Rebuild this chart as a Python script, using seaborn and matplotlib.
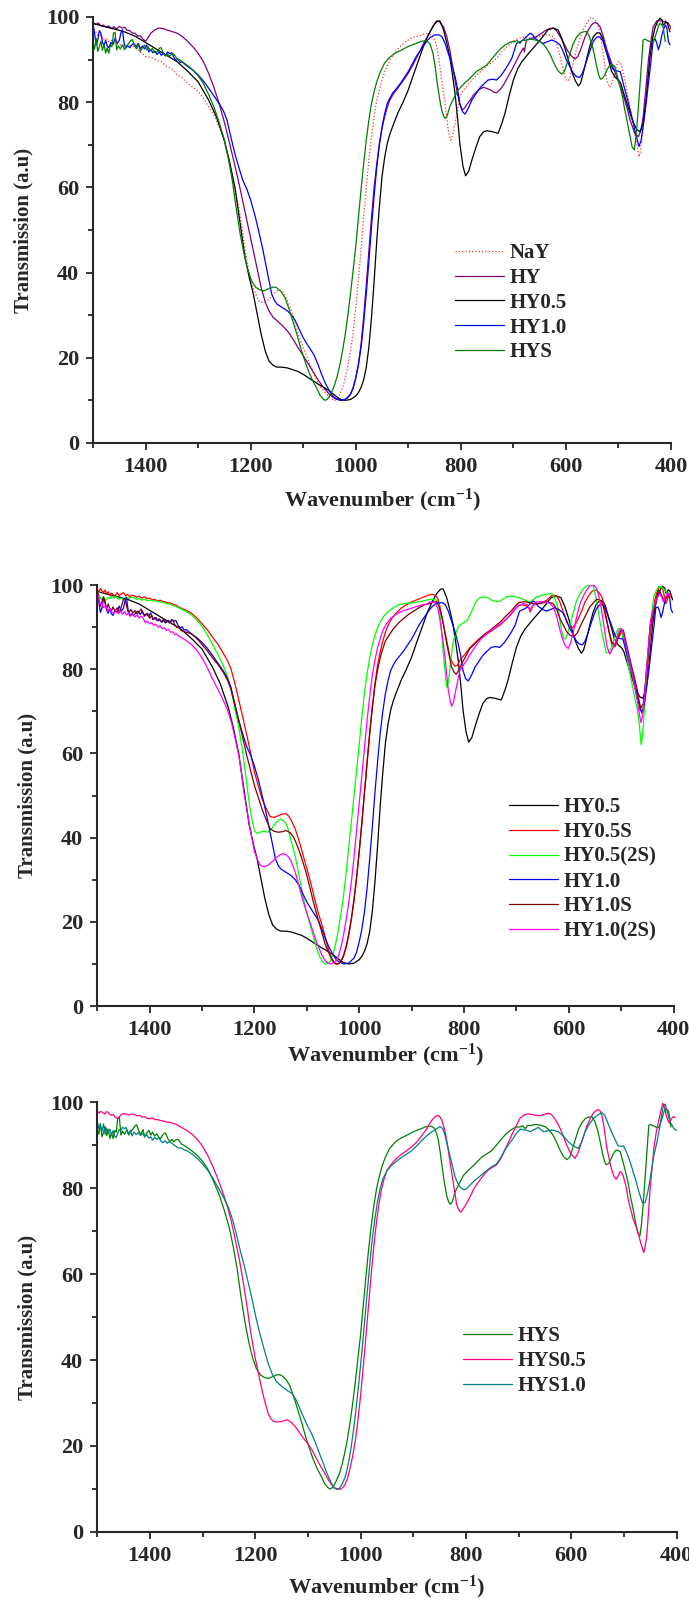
import numpy as np
import matplotlib
matplotlib.use("Agg")
import matplotlib.pyplot as plt
import seaborn as sns
from matplotlib.ticker import MultipleLocator

# ---- spectra (wavenumber cm-1, transmission a.u) ----
hy05_wn = [1500, 1480, 1460, 1440, 1420, 1400, 1380, 1360, 1340, 1320, 1300, 1280, 1265, 1250, 1240, 1230, 1220, 1210, 1202, 1195, 1187, 1180, 1172, 1165, 1157, 1150, 1140, 1130, 1120, 1110, 1100, 1090, 1080, 1070, 1060, 1050, 1040, 1030, 1020, 1010, 1000, 995, 990, 985, 980, 975, 970, 965, 960, 955, 950, 945, 940, 935, 930, 920, 910, 900, 890, 880, 870, 860, 852, 845, 840, 833, 827, 821, 816, 811, 806, 802, 796, 791, 785, 779, 771, 764, 757, 751, 741, 729, 722, 716, 708, 700, 692, 684, 668, 649, 634, 624, 615, 608, 602, 595, 589, 582, 576, 572, 567, 560, 554, 548, 541, 535, 530, 526, 519, 513, 506, 500, 495, 491, 484, 478, 472, 465, 459, 453, 447, 440, 435, 430, 425, 421, 417, 415, 412, 410, 407, 405, 402]
hy05_t = [98.5, 97.8, 97.2, 96.5, 95.5, 94, 92.5, 91, 89.5, 87.3, 84.8, 80.5, 76.5, 71, 66, 60, 51.5, 43, 38.5, 35, 30, 25.5, 21.5, 19.2, 18.2, 17.8, 17.8, 17.6, 17.2, 16.8, 16.1, 15.3, 14.5, 13.7, 13, 12.2, 11.2, 10.3, 10, 10.2, 11, 11.8, 13, 14.8, 17.7, 22.5, 29.5, 38, 47.5, 55.5, 62.5, 67, 70.3, 72.5, 74.2, 77.4, 80, 82.9, 86.5, 90, 93.5, 96.2, 98, 99, 99.1, 97, 94, 90.7, 86.5, 82, 76, 70.4, 65, 62.7, 63.8, 66.4, 69.5, 71.9, 73, 73.3, 73.1, 72.7, 75, 77.4, 81.5, 85.2, 87.8, 89.5, 91.9, 94.6, 97, 97.4, 97, 95, 92.7, 89.8, 87.2, 85, 83.8, 84.5, 86.8, 90.5, 93.4, 95.3, 96.3, 96.2, 95, 93, 90, 87.2, 85.8, 85.2, 84.2, 82.5, 79.8, 77.4, 75.3, 73.5, 73.1, 75, 81, 90.7, 95, 97.7, 99, 99.7, 99.3, 98.1, 98.4, 98.9, 98.5, 97.7, 96.5]

hy_wn = [1500, 1495, 1490, 1485, 1480, 1475, 1470, 1465, 1460, 1455, 1450, 1445, 1440, 1435, 1430, 1425, 1420, 1415, 1410, 1405, 1400, 1395, 1390, 1382, 1375, 1368, 1360, 1350, 1340, 1330, 1320, 1310, 1300, 1290, 1280, 1270, 1260, 1250, 1240, 1225, 1210, 1195, 1180, 1172, 1165, 1158, 1150, 1140, 1130, 1120, 1110, 1100, 1090, 1080, 1070, 1060, 1050, 1042, 1035, 1025, 1015, 1010, 1005, 1000, 995, 990, 985, 980, 975, 970, 965, 960, 955, 950, 945, 940, 935, 928, 920, 910, 900, 890, 880, 870, 860, 852, 846, 840, 833, 827, 821, 815, 808, 802, 797, 793, 789, 782, 776, 766, 757, 750, 744, 738, 732, 725, 719, 711, 703, 695, 687, 683, 681, 679, 677, 675, 665, 656, 646, 637, 630, 624, 618, 611, 603, 596, 589, 583, 577, 570, 564, 557, 551, 545, 540, 535, 529, 522, 514, 507, 499, 491, 484, 478, 472, 469, 462, 457, 453, 448, 443, 438, 434, 427, 418, 410, 405, 400]
hy_t = [98.7, 98.2, 98.6, 97.9, 98.1, 97.6, 97.9, 97.3, 97.7, 97.2, 97.8, 97.4, 97.6, 96.9, 96.8, 96.2, 96.2, 95.5, 95.6, 94.8, 94.3, 95.2, 96.2, 97, 97.4, 97.3, 97, 96.6, 96.2, 95.4, 94.3, 93, 91.5, 89.5, 86.8, 83.5, 79.7, 75.3, 70.3, 62.5, 53.8, 45.2, 36.5, 33, 31, 29.6, 28.7, 27.6, 26.3, 24.5, 22.4, 20.5, 18.5, 16.5, 14.5, 12.8, 11.4, 10.6, 10.2, 10, 10.6, 11.5, 13, 15.2, 18.5, 23, 29.5, 37, 45.2, 53, 60.1, 65.5, 70.3, 73.8, 76.6, 78.8, 80.5, 82, 83.3, 85, 86.8, 89, 91.5, 94, 96.2, 98, 99.1, 98.8, 97.7, 95.5, 92.3, 88, 82.9, 79.5, 78.2, 78.6, 79.4, 80.5, 81.7, 82.9, 83.5, 83.2, 82.9, 82.4, 82.2, 83, 84, 85.8, 87.6, 89.5, 91.5, 92.3, 92.7, 91.8, 93.5, 94.6, 95, 95.4, 96.2, 97, 97.3, 97.4, 96.8, 95.4, 93.6, 91.9, 90.8, 90.1, 90.8, 93, 95.2, 97, 98.2, 98.7, 98.5, 97.7, 95.5, 92.3, 89.5, 87.2, 84.5, 81.7, 78.8, 75.8, 73.7, 72.7, 71.9, 73.5, 76.6, 83, 89.9, 94.5, 97.7, 99.1, 99.1, 98.8, 98.5, 97.5]

hy10_wn = [1500, 1497, 1494, 1491, 1488, 1485, 1482, 1479, 1476, 1473, 1470, 1466, 1462, 1458, 1454, 1450, 1447, 1444, 1441, 1438, 1434, 1430, 1426, 1422, 1418, 1414, 1410, 1406, 1402, 1398, 1394, 1390, 1386, 1382, 1378, 1374, 1370, 1366, 1362, 1358, 1354, 1350, 1346, 1342, 1338, 1334, 1330, 1320, 1310, 1300, 1290, 1280, 1270, 1260, 1252, 1245, 1238, 1230, 1222, 1215, 1207, 1200, 1192, 1185, 1177, 1170, 1165, 1160, 1155, 1150, 1140, 1130, 1122, 1115, 1108, 1100, 1090, 1080, 1072, 1065, 1057, 1050, 1045, 1040, 1030, 1020, 1010, 1005, 1000, 995, 990, 985, 980, 975, 970, 965, 960, 955, 950, 945, 940, 935, 930, 922, 915, 908, 900, 893, 885, 875, 865, 858, 850, 846, 841, 836, 830, 824, 818, 811, 806, 802, 797, 792, 786, 779, 771, 764, 756, 748, 740, 732, 724, 716, 709, 703, 698, 694, 687, 681, 675, 668, 663, 659, 651, 643, 635, 627, 619, 611, 605, 599, 592, 586, 580, 574, 569, 564, 556, 548, 542, 538, 533, 529, 523, 516, 511, 507, 502, 497, 494, 491, 484, 478, 473, 469, 465, 461, 457, 453, 448, 443, 438, 434, 430, 427, 424, 421, 418, 414, 411, 408, 405, 402]
hy10_t = [98.6, 96, 93.5, 94.5, 96.8, 96.2, 94, 93.3, 94.5, 93.2, 92.8, 94, 93.5, 95, 93.8, 94.5, 96.2, 97, 94, 92.7, 93.2, 92.8, 93.5, 93.8, 93, 93.8, 92.6, 93.2, 92.5, 93.4, 91.8, 92.3, 91.6, 92, 91.2, 91.8, 91, 91.5, 91, 91.8, 91.4, 91.6, 90.5, 89.8, 90.1, 89.3, 89.4, 88.4, 87.5, 86.4, 85, 83.3, 81.5, 79.7, 78, 75.8, 72, 67.9, 64.5, 61.7, 59.5, 57, 53.5, 49.9, 45.5, 41.2, 38, 35, 33.5, 32.6, 31.8, 31, 30, 28.7, 26.8, 24.7, 22.7, 20.8, 18.5, 16.1, 13.8, 12.2, 11.2, 10.6, 10, 10.2, 11.4, 12.8, 15.3, 18.2, 22.4, 28, 35, 42.5, 50.7, 58, 64.8, 70, 74.2, 77.3, 79.7, 81, 82.1, 83.3, 84.4, 85.7, 87.2, 88.8, 90.7, 92.5, 94.3, 95.2, 95.8, 95.8, 95.8, 95.4, 93.8, 91.5, 89.2, 86, 83, 79.7, 77.8, 77.2, 78.5, 80.5, 82, 83.3, 84.3, 85.2, 85.4, 85.2, 86.2, 87.6, 89, 90.3, 92.2, 93.8, 94.2, 94.6, 95.4, 96.2, 95.8, 95, 94.3, 93.8, 94.2, 94.6, 94.2, 93.4, 91.8, 89.9, 88.2, 86.8, 86, 85.8, 86.7, 88.4, 91.5, 94.2, 95.2, 95.4, 95, 94.2, 92, 89.5, 87.8, 87.4, 87.3, 87.2, 86, 84.4, 81.2, 78.2, 75.8, 73.5, 71.5, 69.6, 71, 74.3, 79, 84.4, 89.8, 94.6, 94.8, 93.8, 92.3, 93.5, 95.4, 97.2, 98.1, 97.5, 94.2, 93.5]

hys_wn = [1500, 1497, 1494, 1491, 1488, 1485, 1482, 1479, 1476, 1473, 1470, 1467, 1464, 1461, 1458, 1455, 1452, 1448, 1444, 1440, 1436, 1432, 1428, 1425, 1421, 1417, 1413, 1410, 1406, 1402, 1398, 1395, 1391, 1387, 1383, 1380, 1376, 1372, 1370, 1366, 1362, 1358, 1355, 1351, 1347, 1345, 1340, 1335, 1330, 1320, 1310, 1300, 1290, 1280, 1270, 1260, 1250, 1242, 1235, 1228, 1220, 1212, 1205, 1198, 1190, 1182, 1175, 1168, 1160, 1155, 1150, 1142, 1135, 1128, 1120, 1112, 1105, 1098, 1090, 1082, 1075, 1068, 1062, 1058, 1054, 1050, 1045, 1040, 1035, 1030, 1025, 1020, 1015, 1010, 1005, 1000, 995, 990, 985, 980, 975, 970, 965, 960, 953, 945, 935, 925, 912, 900, 887, 875, 866, 859, 853, 849, 846, 843, 840, 836.5, 833, 830, 826, 821, 815, 805, 795, 786, 778, 770, 760, 751, 742, 732, 724, 716, 708, 703, 697, 693, 687.5, 683, 678, 668, 658, 649, 643, 637, 630, 624, 619, 614, 608, 603, 599, 592, 586, 580, 573, 567, 561, 556, 551, 546, 541.5, 537, 534, 530, 526, 521, 516, 512, 507, 502, 497, 492, 488, 483, 478, 474, 470, 467, 465, 462, 459, 456, 453, 450, 445, 440, 434, 431, 427, 424, 421, 418, 415, 412, 411]
hys_t = [93.9, 92.5, 95, 91.9, 93, 94.3, 92.2, 93.6, 91.5, 92.8, 91.5, 93.4, 93, 96.2, 96.4, 92.3, 93.2, 92.5, 93.5, 92.3, 93.2, 93.8, 94.5, 94.7, 93.2, 92.5, 93.6, 91.9, 92.8, 93.4, 92.3, 93, 92.1, 92.6, 91.8, 91.5, 92.3, 92.8, 92.7, 91.5, 90.8, 91.3, 90.7, 91.2, 91.3, 91.1, 90.2, 89.9, 89.5, 88.6, 87.6, 86.2, 84.4, 81.8, 78.9, 75.3, 71.1, 66.5, 61.7, 55.5, 49.1, 44, 40.5, 38, 36.5, 35.9, 35.7, 36.1, 36.5, 36.6, 36.4, 35.5, 34.2, 31.8, 28.7, 25.5, 22.4, 19.7, 16.9, 14.6, 13, 11.2, 10.3, 10, 10.3, 11, 12.2, 13.7, 15.8, 18.5, 21.7, 25.5, 30, 35, 40.5, 46, 52.8, 59.3, 65.5, 71.1, 75.8, 79.7, 82.5, 84.8, 87.2, 89.2, 90.6, 91.5, 92.3, 93.1, 93.7, 94.3, 94.4, 93.8, 91.5, 88.4, 85.5, 82.9, 80.5, 78.2, 76.8, 76.2, 76.8, 79, 80.5, 82.9, 84.2, 85.2, 86.2, 87.2, 88, 88.7, 90, 91.5, 92.6, 93.4, 94, 94.2, 94.2, 94.5, 93.8, 94.6, 94.5, 94.8, 94.6, 94.2, 93.6, 92.7, 91.2, 89.5, 88.2, 87.2, 86.6, 87.2, 88.7, 91.5, 93.8, 95.2, 96.2, 96.5, 96.6, 95.6, 93.8, 91.2, 88.4, 86.2, 85.4, 85.6, 86.4, 87.8, 88.7, 88.8, 88.4, 86, 83.7, 81, 78.2, 75.2, 71.9, 69.5, 68.8, 71.5, 74.3, 79, 84.4, 89.5, 94.6, 94.8, 94.5, 94.2, 94, 95, 96.6, 97.8, 98.5, 98.2, 97.7, 95, 94.2]

nay_wn = [1500, 1495, 1490, 1485, 1480, 1475, 1470, 1465, 1460, 1450, 1440, 1430, 1420, 1410, 1400, 1390, 1380, 1370, 1360, 1350, 1340, 1330, 1320, 1310, 1300, 1290, 1280, 1270, 1260, 1252, 1245, 1238, 1230, 1222, 1215, 1210, 1205, 1200, 1195, 1190, 1185, 1180, 1175, 1170, 1165, 1158, 1150, 1145, 1140, 1135, 1130, 1122, 1115, 1108, 1100, 1092, 1085, 1078, 1070, 1062, 1055, 1048, 1040, 1035, 1030, 1025, 1020, 1015, 1010, 1005, 1000, 995, 990, 985, 980, 975, 970, 965, 960, 955, 950, 943, 935, 925, 915, 905, 895, 885, 875, 865, 858, 853, 849, 844, 840, 835, 830, 826, 823, 819, 815, 811, 806, 802, 795, 789, 780, 770, 760, 751, 741, 732, 722, 713, 705, 697, 689, 681, 671, 662, 652, 643, 633, 624, 617, 611, 605, 600, 596, 592, 586, 580, 573, 567, 560, 553, 547, 541.5, 537, 532, 527, 522.5, 519, 516, 511, 507, 503, 500, 497, 494, 489, 484.5, 480, 475, 471, 467, 464, 461, 458, 456, 453, 450, 445, 440, 435, 430, 425, 421, 416, 411, 408, 405, 400]
nay_t = [97, 96.5, 95.5, 95.8, 94.7, 95, 94.2, 94.5, 93.9, 93.5, 93.1, 93.3, 93, 91.8, 90.7, 90.5, 89.9, 89.5, 88.4, 87.8, 86.4, 85.7, 84.4, 83.5, 82.5, 81, 78.9, 77, 74.2, 71.5, 67.9, 64.5, 60.1, 55, 49.1, 45, 41.2, 38.5, 36.5, 34.8, 33.4, 33, 33, 33.3, 33.8, 34.8, 35.7, 35.9, 35.7, 34.8, 33.4, 30.8, 27.9, 25, 22.4, 20, 17.7, 15.6, 13.7, 12.4, 11.4, 10.5, 10, 10.4, 11.4, 13, 15.3, 18, 21.6, 26, 31.8, 38.5, 45.2, 53, 60.1, 66.5, 71.9, 76.5, 80.5, 83, 85.2, 87.7, 89.9, 91.8, 93.1, 94.2, 95, 95.4, 95.8, 96.1, 95.8, 95.3, 94.6, 92, 88.4, 84, 79.7, 75.5, 72.7, 71.1, 72.5, 75, 78.5, 81.3, 82.8, 83.7, 85, 86.4, 87.4, 88.4, 89.3, 90.3, 91.8, 93, 93.8, 94.6, 95, 95.2, 95.1, 95, 95.4, 95.8, 95.8, 95.4, 93.5, 90.7, 87.5, 85.2, 85, 86, 89.5, 92.3, 95, 97, 98.6, 99.9, 99.6, 98.9, 97, 93.8, 89.5, 85.2, 84, 83.5, 85, 87.2, 88.8, 89.5, 89.4, 88.4, 85.8, 82.9, 80, 76.6, 74, 71.1, 69, 67.2, 68.5, 70.4, 74.5, 79, 86, 92.3, 95.5, 97.7, 98.3, 98.5, 99, 99.3, 99, 98.5, 97]

hy05s_wn = [1500, 1497, 1494, 1491, 1488, 1485, 1482, 1479, 1476, 1473, 1470, 1466, 1462, 1458, 1454, 1450, 1446, 1442, 1438, 1434, 1430, 1425, 1420, 1415, 1410, 1405, 1400, 1395, 1390, 1385, 1380, 1375, 1370, 1365, 1360, 1350, 1340, 1330, 1320, 1310, 1300, 1290, 1280, 1270, 1260, 1252, 1245, 1238, 1230, 1222, 1215, 1207, 1200, 1192, 1185, 1177, 1170, 1162, 1155, 1147, 1140, 1135, 1130, 1122, 1115, 1108, 1100, 1092, 1085, 1078, 1070, 1064, 1058, 1053, 1048, 1043, 1039, 1035, 1030, 1025, 1020, 1015, 1010, 1005, 1000, 995, 990, 985, 980, 975, 970, 965, 960, 955, 950, 945, 938, 930, 920, 910, 900, 890, 880, 870, 862, 855, 850, 846, 841, 836, 831, 827, 822, 817, 812, 808, 798, 789, 779, 770, 760, 750, 741, 731, 722, 712, 704, 696, 688, 680.5, 676, 674, 671, 668, 661, 655, 648, 642, 637, 633, 628, 623, 618, 614, 609, 604, 599, 595, 588, 582, 575, 569, 562, 556, 551, 547, 542, 537, 532, 528, 523, 518, 512, 509, 506, 502, 499, 496, 493, 488, 483, 478, 474, 469, 464, 459, 456, 453, 449, 445, 440, 436, 432, 427, 424, 421, 418, 415, 412, 410, 407, 404]
hy05s_t = [99, 98.4, 99.2, 98.6, 98.2, 98.8, 98, 98.4, 97.6, 98.1, 97.8, 97.4, 98.2, 97.5, 97.9, 98.2, 97.5, 97.8, 97.2, 97.6, 97.5, 97.1, 97.4, 96.9, 97.2, 96.8, 96.9, 96.5, 96.6, 96.2, 96.4, 96.1, 96, 95.8, 95.7, 95.2, 94.5, 94, 93.3, 92.2, 90.8, 89.4, 87.6, 86, 83.9, 82.2, 80.2, 77, 72.8, 68.5, 64.6, 60, 55.6, 52, 49.1, 46.8, 45, 44.8, 45.2, 45.6, 45.7, 45.2, 44.2, 42, 39.3, 36.2, 32.7, 29, 25.4, 22.1, 18.8, 16, 13.1, 11.5, 10.4, 10, 10.1, 10.6, 11.9, 13.9, 16.8, 20.5, 25, 30.3, 36.5, 43.4, 50.8, 58.1, 65, 71.2, 76.5, 81, 84.1, 86.7, 88.8, 90.4, 92, 93.3, 94.5, 95.3, 96, 96.5, 97, 97.5, 97.8, 97.6, 96.8, 94.8, 91.8, 88.5, 85.5, 82.9, 81.5, 80.7, 81, 82.1, 83.6, 85.1, 86.3, 87.3, 88.1, 88.9, 89.7, 90.5, 91.6, 92.8, 94, 95.2, 95.3, 95, 94.5, 93.6, 94.3, 95.2, 95.5, 95.8, 96.1, 96.4, 97, 97.5, 97.6, 97.3, 96.3, 94.8, 93, 91.2, 90.2, 89.7, 90.5, 92, 94, 96, 97.5, 98.5, 98.8, 98.8, 98.2, 97.2, 94.8, 92, 88.8, 85.7, 85.3, 86.2, 87.3, 88.3, 88.9, 88.3, 86.9, 84.2, 81.3, 78.5, 75.8, 73, 70.3, 69.9, 72.5, 75.8, 81.5, 87.7, 92.5, 96.4, 98.2, 99.6, 99.5, 99.2, 97.5, 95.6, 96.5, 97.2, 98, 97.5]

hy05_2s_wn = [1500, 1496, 1492, 1488, 1484, 1480, 1476, 1472, 1468, 1464, 1460, 1455, 1450, 1445, 1440, 1435, 1430, 1425, 1420, 1415, 1410, 1405, 1400, 1390, 1380, 1370, 1360, 1350, 1340, 1330, 1320, 1310, 1300, 1290, 1280, 1270, 1260, 1252, 1245, 1238, 1230, 1225, 1220, 1215, 1210, 1205, 1200, 1195, 1190, 1182, 1175, 1167, 1160, 1155, 1150, 1145, 1140, 1135, 1130, 1122, 1115, 1108, 1100, 1092, 1085, 1080, 1075, 1070, 1065, 1058, 1054, 1050, 1045, 1040, 1035, 1030, 1025, 1020, 1015, 1010, 1005, 1000, 995, 990, 985, 980, 975, 970, 965, 960, 953, 945, 935, 925, 915, 905, 893, 880, 870, 860, 852, 848, 846, 843, 839.5, 836, 833, 830.5, 828, 824, 820, 815, 811, 804, 798, 793, 789, 784, 779, 774, 769.5, 760, 754, 747, 739, 731, 725, 719, 711, 703, 695, 687, 680, 674, 668, 661, 653, 646, 640, 633, 628, 623, 618, 614, 610, 607, 603, 598, 591, 585, 578, 572, 563, 557, 553, 549, 544, 539, 534, 530, 528, 524, 518, 513, 509, 505, 502, 499, 496, 491, 487, 482, 477, 473, 469, 466, 464, 462, 460, 458, 455, 452, 448, 445, 441, 438, 433, 429, 424, 420, 415, 410, 407]
hy05_2s_t = [98.6, 97.5, 96.6, 97.2, 96.4, 97, 96.8, 97.4, 96.9, 97.3, 96.6, 96.9, 96.6, 97.2, 96.8, 97.1, 97, 96.6, 96.8, 96.4, 96.7, 96.3, 96.4, 96.2, 96, 95.7, 95.4, 94.9, 94.3, 93.7, 92.9, 91.7, 90.2, 88.2, 85.9, 83.6, 81, 78.5, 75.3, 71.2, 66.3, 62.5, 58.1, 53.2, 48.3, 44.5, 41.7, 41, 41.3, 41.5, 41.3, 42.2, 43.4, 44.1, 44.4, 44.1, 43.4, 41.8, 39.3, 35.5, 31.1, 26.5, 22.1, 18.5, 15.5, 13.3, 11.6, 10.6, 10, 10.2, 11, 12.3, 14.8, 18, 21.8, 26.2, 31.6, 37.6, 43.8, 49.9, 56, 62.2, 68.5, 74.5, 79, 82.7, 85.7, 88, 89.8, 91.2, 92.6, 93.7, 94.6, 95.3, 95.6, 95.7, 95.9, 96.1, 96.5, 96.6, 96.4, 95.5, 93.2, 89, 83.7, 79.5, 75.7, 76.5, 79, 83.5, 86.9, 88.8, 90.1, 90.8, 91.2, 91.8, 92.8, 94.2, 95.6, 96.5, 97, 97.2, 96.9, 96.4, 96.1, 96.2, 96.7, 97.2, 97.4, 97.3, 97, 96.6, 96.2, 96, 96.5, 97.2, 97.5, 97.7, 97.9, 98, 97.2, 95.6, 92.8, 89.3, 87.5, 87.1, 88.2, 90.5, 93.8, 96.4, 98, 99.2, 100, 99.9, 99.7, 97.5, 94, 90.2, 86.9, 84.7, 83.9, 84, 85.3, 87.4, 88.9, 89.6, 89.7, 88.7, 86.9, 84.2, 81.3, 78.2, 75, 72.5, 70.3, 67.5, 64.7, 62.1, 63.5, 66.3, 72, 79.8, 85.5, 90.1, 94.2, 97.2, 98.7, 99.6, 99.6, 99.2, 98.5, 98, 97.2]

hy10s_wn = [1500, 1497, 1494, 1491, 1488, 1485, 1482, 1479, 1476, 1473, 1470, 1466, 1462, 1458, 1454, 1450, 1447, 1444, 1440, 1436, 1432, 1428, 1424, 1420, 1416, 1412, 1408, 1404, 1400, 1396, 1392, 1388, 1384, 1380, 1376, 1372, 1368, 1364, 1360, 1356, 1352, 1348, 1344, 1340, 1335, 1330, 1320, 1310, 1300, 1290, 1280, 1270, 1260, 1252, 1245, 1238, 1230, 1222, 1215, 1207, 1200, 1192, 1185, 1177, 1170, 1162, 1155, 1147, 1140, 1132, 1125, 1118, 1110, 1102, 1095, 1088, 1080, 1072, 1065, 1058, 1052, 1048, 1045, 1041, 1038, 1034, 1030, 1025, 1020, 1015, 1010, 1005, 1000, 995, 990, 985, 980, 975, 970, 965, 960, 955, 950, 942, 935, 925, 915, 905, 895, 885, 875, 865, 858, 852, 847, 843, 838, 833, 828, 824, 819, 815, 810, 804.5, 797, 789, 779, 770, 760, 750, 741, 731, 722, 712, 704, 696, 688, 680.5, 674, 668, 661, 655, 648, 642, 636, 630, 623, 617, 610, 604, 598, 591, 584, 575.5, 568, 560, 553, 547, 542, 537, 532, 528, 523, 518, 512, 508, 502, 499, 496, 493, 489.6, 485, 480, 475, 470.6, 467, 463, 458, 455, 451.5, 448, 445, 439, 434, 429, 426, 423, 420, 416.5, 413, 410, 407]
hy10s_t = [98.6, 97, 95, 96, 97.2, 95.7, 94.2, 95.5, 94.3, 93.8, 94.8, 93.7, 94.6, 93.5, 94.8, 96.6, 96.8, 95, 93.3, 94.2, 93.4, 93.9, 93.2, 93.7, 94.3, 93.2, 92.8, 93.3, 92.1, 92.8, 91.8, 92.3, 91.5, 91.7, 91.2, 91.9, 91.1, 91.6, 91.2, 91.7, 90.6, 89.9, 90.2, 89.2, 89, 88.8, 88.4, 87.3, 85.9, 84.4, 82.7, 81.2, 79.4, 77.6, 75.3, 72, 67.9, 63.6, 59.7, 55.8, 52.4, 49.3, 46.6, 44.1, 42.1, 41.5, 41.3, 41.4, 41.7, 41.2, 40.1, 38, 35.2, 32, 28.6, 25, 21.3, 17.8, 14.7, 12.6, 11, 10.3, 10, 10, 10.2, 10.8, 11.9, 14.2, 17.2, 20.8, 25.4, 30.8, 36.8, 43.6, 50.7, 57.7, 64.6, 70.8, 76.1, 79.8, 82.7, 84.9, 86.7, 88.3, 89.6, 91, 92.1, 93.1, 93.9, 94.7, 95.3, 95.6, 96, 96, 94.8, 92.8, 89.8, 86.1, 83, 80.6, 79.3, 78.8, 79.8, 81.3, 83, 84.9, 86.1, 87.3, 88.4, 89.3, 90.2, 91.2, 92.4, 93.6, 94.7, 95.8, 96, 96, 95.8, 95.6, 95.6, 95.6, 95.8, 96, 95.8, 95.6, 94.2, 92, 90.4, 88.9, 88.1, 87.7, 88.6, 90.9, 92.8, 94.8, 95.8, 96.6, 96.5, 96, 93.8, 91.6, 88.8, 86.5, 85.7, 87.2, 88.9, 89.2, 89.3, 87.6, 85.7, 83.2, 80.6, 78.2, 75.8, 73.2, 70.7, 71.8, 75.5, 79.8, 85, 90.1, 93.2, 96, 98.8, 98.4, 97.6, 96.8, 96.4, 97, 97.6, 97.2]

hy10_2s_wn = [1500, 1497, 1494, 1491, 1488, 1484, 1480, 1476, 1472, 1468, 1464, 1460, 1456, 1452, 1448, 1444, 1440, 1436, 1432, 1428, 1424, 1420, 1416, 1412, 1408, 1404, 1400, 1396, 1392, 1388, 1384, 1380, 1376, 1372, 1368, 1364, 1360, 1356, 1352, 1348, 1344, 1340, 1330, 1320, 1310, 1300, 1290, 1280, 1270, 1260, 1252, 1245, 1238, 1230, 1225, 1220, 1215, 1210, 1205, 1200, 1195, 1190, 1185, 1180, 1172, 1165, 1158, 1150, 1145, 1140, 1135, 1130, 1122, 1115, 1108, 1100, 1092, 1085, 1078, 1072, 1067, 1062, 1055, 1050, 1045, 1040, 1035, 1030, 1025, 1020, 1015, 1010, 1005, 1000, 995, 990, 985, 980, 975, 970, 965, 960, 955, 948, 940, 930, 920, 910, 900, 890, 880, 870, 864.9, 855.4, 850, 845.8, 841, 836.3, 833, 829.9, 826.5, 823.6, 820, 817.2, 812, 807.7, 801, 795, 787, 779, 770, 760, 749, 737.7, 728, 718.6, 710, 702.7, 695, 686.8, 680, 676, 674, 670, 661.4, 652, 642.3, 636, 629.6, 623, 616.9, 612, 607.3, 601, 596, 591.4, 585, 578.7, 572, 566, 561, 556.4, 551, 546.9, 542, 537.4, 532, 527.8, 524, 521.5, 517, 512, 508, 505.6, 502, 499.2, 496, 492.8, 488, 483.3, 478, 473.8, 469, 465.6, 462.3, 460, 457.9, 454.5, 451.5, 447, 443.9, 440, 435.6, 431, 427.3, 423, 419.7, 416, 412, 409, 407]
hy10_2s_t = [98.6, 96.5, 95.4, 95.8, 94.6, 95.2, 93.8, 94.5, 93.5, 93.3, 94.2, 93.2, 93.8, 93.1, 93.7, 92.9, 93.5, 92.6, 93.1, 92.4, 92.9, 92.2, 92.6, 92.1, 91, 91.4, 90.8, 91.1, 90.4, 90.7, 90, 90.3, 89.6, 89.9, 89.2, 89.5, 88.8, 88.9, 88.2, 88.4, 87.8, 87.6, 86.8, 85.9, 84.5, 82.7, 80.4, 77.7, 75.3, 72.8, 70.5, 67.9, 64.2, 59.7, 55.5, 50.7, 47, 43.4, 40, 36.8, 35, 33.6, 33.2, 33.1, 33.6, 34.4, 35.3, 36, 36.2, 36, 35.4, 34.4, 31.8, 28.6, 25.3, 22.1, 19.2, 16.4, 14.2, 12.3, 11.2, 10.4, 10, 10.2, 10.6, 11.8, 13.9, 16.8, 20.5, 24.6, 29.5, 35.3, 41.7, 48.2, 54.8, 61.5, 67.9, 73.5, 78.6, 82.2, 85.1, 87.3, 89.2, 90.8, 92.1, 93, 93.7, 94.1, 94.5, 94.9, 95.3, 95.5, 96, 95.8, 94.5, 91.6, 87.5, 82.9, 78.5, 75, 72.5, 71.2, 72.2, 74.2, 77.2, 79.8, 81, 82.1, 83.8, 85.3, 86.8, 88.1, 89.2, 90.1, 91, 92, 93.2, 94.4, 95.1, 95.6, 95.4, 94.6, 94, 95, 96, 96, 96, 95.6, 94.8, 92.5, 89.3, 87.2, 85.7, 84.9, 86.5, 88.9, 92.5, 95.6, 97.5, 98.8, 99.7, 100, 99.8, 99.2, 97, 94, 89.5, 85.7, 84.2, 83.6, 84.8, 86.1, 87.7, 88.9, 89.5, 89.7, 88.4, 86.5, 84, 81.3, 78.2, 75.4, 72.3, 69.5, 67.3, 68.5, 70.3, 75, 80.6, 87, 91.6, 93.8, 95.6, 97, 98, 97.2, 96, 96.8, 98, 97.8, 97.2]

hys05_wn = [1500, 1497, 1494, 1490, 1486, 1482, 1478, 1474, 1470, 1466, 1462, 1458, 1454, 1450, 1445, 1440, 1435, 1430, 1425, 1420, 1415, 1410, 1405, 1400, 1395, 1390, 1385, 1380, 1375, 1370, 1365, 1360, 1350, 1340, 1330, 1320, 1310, 1300, 1290, 1280, 1270, 1260, 1252, 1245, 1238, 1230, 1222, 1215, 1210, 1205, 1200, 1195, 1190, 1185, 1180, 1175, 1170, 1165, 1158, 1150, 1145, 1140, 1135, 1130, 1122, 1115, 1108, 1100, 1092, 1085, 1078, 1070, 1064, 1057, 1052, 1048, 1040, 1035, 1030, 1025, 1020, 1015, 1010, 1005, 1000, 995, 990, 985, 980, 975, 970, 965, 960, 955, 950, 942, 935, 925, 915, 905, 895, 885, 875, 868, 862, 856, 851, 846, 841, 836.7, 832, 827, 822, 817.7, 814, 810, 805, 798.7, 792, 786, 780, 773.4, 765, 757.5, 750, 741.7, 735, 729, 721, 713.3, 705, 697.4, 691, 684.8, 678, 672, 666, 659.5, 652, 643.6, 639, 634, 628, 621.5, 615, 609, 604, 599.4, 593, 588, 583.6, 577, 571, 564, 558, 552, 548.7, 545, 542.4, 538, 533, 528, 523.4, 519, 515.2, 511, 507.6, 504, 501.3, 496, 491.8, 487, 482.3, 477, 472.8, 468.4, 465, 462.7, 460, 457, 454, 450.7, 447, 443, 439, 434.8, 430, 426.6, 423, 420.3, 417, 414, 412, 409.5, 406.3, 403]
hys05_t = [97.9, 97.4, 97.8, 97.6, 97.2, 97.8, 97.4, 96.9, 97.1, 96.5, 96.2, 96.6, 97.1, 97.3, 97.2, 97, 97.2, 97.1, 96.8, 96.9, 96.5, 96.6, 96.2, 96.1, 96.3, 95.9, 95.9, 95.7, 95.6, 95.4, 95.3, 95.2, 94.8, 94.1, 93.4, 92.5, 91.3, 89.7, 87.5, 84.9, 81.8, 78.4, 75.3, 72, 68, 63.2, 57.5, 51.9, 47.5, 43.8, 40.4, 37.4, 34.5, 31.8, 29.5, 27.4, 26.3, 25.7, 25.6, 25.7, 25.9, 26.1, 25.8, 25.3, 24.2, 22.9, 21.7, 20.5, 19, 17.3, 15.7, 14.1, 12.7, 11.3, 10.6, 10.2, 9.9, 10.2, 10.9, 12.4, 14.9, 17.7, 21.3, 26.2, 31.8, 38.5, 45.5, 52.8, 59.9, 66.4, 72, 76.5, 80, 82.3, 84.1, 85.5, 86.5, 87.6, 88.5, 89.4, 90.5, 92, 93.7, 95.2, 96.2, 96.8, 96.8, 95.8, 93.8, 91.2, 87.5, 83.4, 79.6, 76.1, 75, 74.4, 75.2, 76.5, 78, 79.6, 80.8, 81.9, 83.2, 84.2, 84.8, 85.4, 86.6, 88.1, 90.2, 92.3, 94.4, 96.2, 96.9, 97.2, 97.2, 97, 96.9, 96.8, 97.1, 97.4, 97.2, 96.6, 95.4, 93.9, 92, 90, 88.7, 87.7, 86.9, 88, 89.6, 92, 94.3, 96.2, 97.5, 98.1, 98.2, 97.9, 97, 94.2, 89.6, 86.6, 84.2, 82.7, 82, 82.8, 83.8, 83.5, 82.7, 80.2, 77.2, 74.8, 72.6, 71, 69.5, 67.2, 66, 65, 66.3, 68.7, 73.5, 79.6, 84.5, 89.6, 92.8, 95.4, 98, 99.7, 98.8, 97, 95.8, 95.1, 95.6, 96.2, 96.6, 96.4]

hys10_wn = [1500, 1497, 1494, 1491, 1488, 1485, 1482, 1479, 1476, 1473, 1470, 1467, 1464, 1461, 1458, 1455, 1452, 1448, 1445, 1441, 1437, 1434, 1430, 1426, 1422, 1418, 1414, 1410, 1406, 1402, 1398, 1395, 1391, 1387, 1383, 1379, 1375, 1371, 1367, 1363, 1360, 1355, 1350, 1345, 1340, 1335, 1330, 1320, 1310, 1300, 1290, 1280, 1270, 1260, 1250, 1242, 1235, 1228, 1220, 1212, 1205, 1198, 1190, 1182, 1175, 1168, 1160, 1152, 1145, 1138, 1130, 1122, 1115, 1108, 1100, 1092, 1085, 1078, 1070, 1065, 1060, 1055, 1050, 1045, 1040, 1036, 1032, 1028, 1023, 1018, 1013, 1008, 1003, 998, 993, 988, 983, 978, 973, 968, 963, 958, 950, 942, 935, 925, 915, 905, 895, 885, 875, 868, 859, 849, 844, 840, 835, 830, 825, 821, 816, 811, 806, 802, 796, 789, 781, 773, 765, 757.5, 750, 742, 734, 726, 718, 710, 704, 697, 688, 684, 678.5, 670, 663, 658, 653, 645, 637, 631, 625, 618, 612, 606, 599, 593, 587, 580, 574, 566, 558, 550, 542, 537, 533, 527, 520, 515, 511, 506, 501, 497, 492, 487, 482, 477, 473, 469, 465, 460, 457, 454, 450, 447.5, 443, 438, 432, 428, 425, 422, 419, 416, 413, 409, 405, 400]
hys10_t = [95.7, 93.8, 94.6, 93.2, 94.9, 92.5, 93.9, 92.8, 93.7, 92.4, 93.3, 92, 91.7, 92.8, 93.6, 93.3, 94.1, 93.8, 94.1, 92.6, 93.4, 92.1, 93, 92.4, 92.9, 92.2, 92.7, 91.9, 92.4, 91.6, 91.9, 91.1, 91.8, 91.3, 91.7, 90.9, 90.5, 91, 90.4, 90.8, 90.5, 90.1, 89.6, 89.3, 89.3, 88.9, 88.7, 87.9, 86.9, 85.6, 84.1, 82.2, 80, 77.8, 75.2, 72.2, 68.8, 65.2, 61.5, 57.3, 53.5, 49.5, 45.5, 42, 39, 36.8, 35, 34.1, 33.4, 32.8, 32.2, 30.6, 28.6, 26.6, 24.5, 22.6, 20.5, 18.2, 15.7, 14, 12.5, 11.2, 10.2, 9.9, 10.2, 11, 12, 13.3, 16.2, 19.7, 24.2, 29.4, 35.2, 41.4, 48.2, 55.1, 61.8, 68, 72.8, 76.8, 79.8, 82.1, 84, 85.2, 85.9, 86.9, 87.7, 88.5, 89.6, 90.9, 92.1, 92.8, 93.5, 94.3, 93.8, 92.3, 89.8, 87.3, 84.8, 82.7, 81.2, 80.2, 79.7, 79.6, 80.2, 81.1, 82, 82.8, 83.6, 84.4, 85, 85.6, 87.1, 88.9, 90.3, 91.6, 92.8, 93.7, 93.5, 93.4, 93.1, 93.6, 94.1, 93.6, 93.1, 93.3, 93.5, 93.3, 93.1, 92.4, 91.6, 90.8, 90, 89.6, 89.2, 90.8, 93.1, 94.8, 96.2, 97, 97.5, 97, 95.8, 94, 92, 90.8, 89.8, 89.7, 89.8, 88.8, 87.3, 85.5, 83.4, 81.5, 79.6, 78, 76.5, 76.6, 78, 79.6, 82.5, 84.6, 87.8, 90.4, 94.3, 97.5, 99.3, 99.5, 98.2, 96.8, 95.4, 94.6, 93.7, 93.4]

# panel contents: (label, wavenumbers, transmission, colour, linestyle)
panel1 = [("NaY", nay_wn, nay_t, "#ff3030", ":"),
          ("HY", hy_wn, hy_t, "#800080", "-"),
          ("HY0.5", hy05_wn, hy05_t, "#000000", "-"),
          ("HY1.0", hy10_wn, hy10_t, "#0000ff", "-"),
          ("HYS", hys_wn, hys_t, "#008000", "-")]
panel2 = [("HY0.5", hy05_wn, hy05_t, "#000000", "-"),
          ("HY0.5S", hy05s_wn, hy05s_t, "#ff0000", "-"),
          ("HY0.5(2S)", hy05_2s_wn, hy05_2s_t, "#00ff00", "-"),
          ("HY1.0", hy10_wn, hy10_t, "#0000ff", "-"),
          ("HY1.0S", hy10s_wn, hy10s_t, "#800000", "-"),
          ("HY1.0(2S)", hy10_2s_wn, hy10_2s_t, "#ff00ff", "-")]
panel3 = [("HYS", hys_wn, hys_t, "#008000", "-"),
          ("HYS0.5", hys05_wn, hys05_t, "#ff0080", "-"),
          ("HYS1.0", hys10_wn, hys10_t, "#008080", "-")]

sns.set_style("ticks")
plt.rcParams["font.family"] = ["Liberation Serif", "DejaVu Serif"]
plt.rcParams["font.weight"] = "bold"
plt.rcParams["axes.labelweight"] = "bold"
plt.rcParams["mathtext.fontset"] = "custom"
plt.rcParams["mathtext.rm"] = "Liberation Serif:bold"
plt.rcParams["mathtext.bf"] = "Liberation Serif:bold"
plt.rcParams["mathtext.it"] = "Liberation Serif:bold"


def draw_panel(ax, curves, legend_xy, xlabelpad):
    for name, wn, t, color, ls in curves:
        sns.lineplot(x=wn, y=t, ax=ax, color=color, linestyle=ls, lw=0.9,
                     label=name, estimator=None, sort=False)
    ax.set_xlim(1500, 400)
    ax.set_ylim(0, 100)
    ax.xaxis.set_major_locator(MultipleLocator(200))
    ax.xaxis.set_minor_locator(MultipleLocator(100))
    ax.yaxis.set_major_locator(MultipleLocator(20))
    ax.yaxis.set_minor_locator(MultipleLocator(10))
    ax.tick_params(which="major", direction="out", length=5, width=1.3, labelsize=16, pad=5)
    ax.tick_params(which="minor", direction="out", length=3.5, width=1.3)
    sns.despine(ax=ax)
    for side in ("left", "bottom"):
        ax.spines[side].set_linewidth(1.5)
    ax.set_xlabel("Wavenumber (cm$^{-1}$)", fontsize=16, labelpad=xlabelpad)
    ax.set_ylabel("Transmission (a.u)", fontsize=15, labelpad=9)
    ax.legend(loc="upper left", bbox_to_anchor=legend_xy, frameon=False, fontsize=15,
              handlelength=2.35, handletextpad=0.3, labelspacing=0.23,
              borderpad=0, borderaxespad=0)


fig = plt.figure(figsize=(6.89, 16.02), dpi=100)
ax1 = fig.add_axes([0.135, 0.7235, 0.8389, 0.2659])
ax2 = fig.add_axes([0.1411, 0.372, 0.8366, 0.2628])
ax3 = fig.add_axes([0.1411, 0.0437, 0.8411, 0.2684])

draw_panel(ax1, panel1, (0.626, 0.469), 7)
draw_panel(ax2, panel2, (0.714, 0.496), 1.5)
draw_panel(ax3, panel3, (0.631, 0.478), 5.5)

fig.savefig("out.png", dpi=100)
